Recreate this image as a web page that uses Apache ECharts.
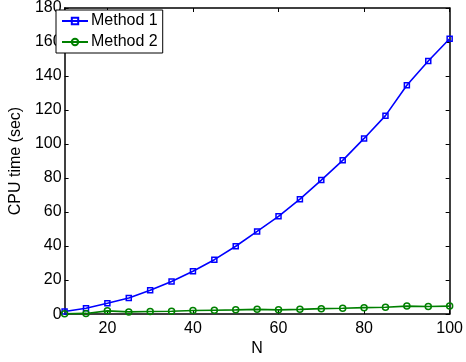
<!DOCTYPE html>
<html>
<head>
<meta charset="utf-8">
<script src="https://cdn.jsdelivr.net/npm/echarts@6/dist/echarts.min.js"></script>
<style>
  html, body { margin: 0; padding: 0; background: #fff; }
  #chart { width: 466px; height: 362px; }
</style>
</head>
<body>
<div id="chart"></div>
<script>
// N values
var nValues = [10, 15, 20, 25, 30, 35, 40, 45, 50, 55, 60, 65, 70, 75, 80, 85, 90, 95, 100];
// CPU time (sec)
var method1 = [1.5, 3.4, 6.4, 9.5, 14, 19.2, 25.2, 32, 39.9, 48.6, 57.5, 67.6, 78.8, 90.4, 103.3, 116.7, 134.6, 148.8, 161.9];
var method2 = [0.2, 0.4, 1.9, 1.3, 1.5, 1.7, 2.1, 2.3, 2.5, 2.8, 2.5, 2.8, 3.2, 3.4, 3.8, 4.0, 4.7, 4.5, 4.7];
var seriesNames = ['Method 1', 'Method 2'];

var myChart = echarts.init(document.getElementById('chart'));
var font = 'Liberation Sans, Arial, sans-serif';

function pairs(ys) {
    return ys.map(function (y, i) { return [nValues[i], y]; });
}

var boxAxis = {
    axisLine: { show: true, onZero: false, lineStyle: { color: '#000', width: 1.5 } },
    axisTick: { show: true, inside: true, length: 4, lineStyle: { color: '#000' } },
    splitLine: { show: false }
};

var option = {
    animation: false,
    grid: { left: 52, right: 12, top: 5, bottom: 41 },
    legend: {
        orient: 'vertical',
        left: 56,
        top: 10,
        padding: [3, 5, 3, 5],
        itemGap: 5,
        itemWidth: 26,
        itemHeight: 8,
        borderColor: '#000',
        borderWidth: 1,
        backgroundColor: '#fff',
        textStyle: { color: '#000', fontSize: 16, fontFamily: font, padding: [0, 0, 0, -2] },
        data: seriesNames
    },
    xAxis: [
        Object.assign({}, boxAxis, {
            type: 'value',
            min: 10,
            max: 100,
            splitNumber: 5,
            position: 'bottom',
            name: 'N',
            nameLocation: 'middle',
            nameGap: 22,
            nameTextStyle: { color: '#000', fontSize: 16, fontFamily: font },
            axisLabel: { color: '#000', fontSize: 16, fontFamily: font, margin: 6, showMinLabel: false }
        }),
        Object.assign({}, boxAxis, {
            type: 'value',
            min: 10,
            max: 100,
            splitNumber: 5,
            position: 'top',
            axisLabel: { show: false }
        })
    ],
    yAxis: [
        Object.assign({}, boxAxis, {
            type: 'value',
            min: 0,
            max: 180,
            interval: 20,
            position: 'left',
            name: 'CPU time (sec)',
            nameLocation: 'middle',
            nameGap: 34,
            nameTextStyle: { color: '#000', fontSize: 16, fontFamily: font },
            axisLabel: { color: '#000', fontSize: 16, fontFamily: font, margin: 3 }
        }),
        Object.assign({}, boxAxis, {
            type: 'value',
            min: 0,
            max: 180,
            interval: 20,
            position: 'right',
            axisLabel: { show: false }
        })
    ],
    series: [
        {
            name: seriesNames[0],
            type: 'line',
            symbol: 'rect',
            symbolSize: 5,
            showAllSymbol: true,
            lineStyle: { color: '#0000ff', width: 1.6 },
            itemStyle: { color: 'rgba(0,0,0,0)', borderColor: '#0000ff', borderWidth: 1.5 },
            data: pairs(method1)
        },
        {
            name: seriesNames[1],
            type: 'line',
            symbol: 'circle',
            symbolSize: 6,
            showAllSymbol: true,
            lineStyle: { color: '#008000', width: 1.6 },
            itemStyle: { color: 'rgba(0,0,0,0)', borderColor: '#008000', borderWidth: 1.5 },
            data: pairs(method2)
        }
    ]
};
myChart.setOption(option);
</script>
</body>
</html>
